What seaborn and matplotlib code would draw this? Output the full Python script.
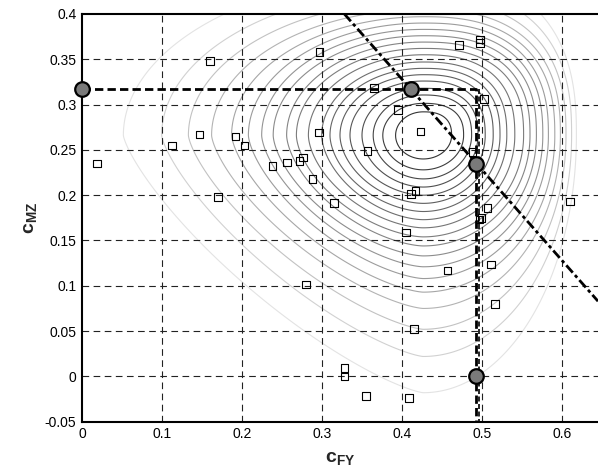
import numpy as np
import pandas as pd
import matplotlib
matplotlib.use("Agg")
import matplotlib.pyplot as plt
import seaborn as sns

# ---------------- data ----------------
# measured points (squares)
sq_x = [0.019, 0.160, 0.1125, 0.147, 0.192, 0.203, 0.170, 0.238, 0.256, 0.272,
        0.276, 0.297, 0.471, 0.4975, 0.4975, 0.365, 0.5025, 0.395, 0.296, 0.423,
        0.357, 0.488, 0.288, 0.315, 0.4167, 0.411, 0.610, 0.507, 0.4996, 0.497,
        0.405, 0.457, 0.511, 0.280, 0.516, 0.415, 0.328, 0.328, 0.355, 0.409]
sq_y = [0.235, 0.348, 0.255, 0.267, 0.265, 0.255, 0.198, 0.232, 0.236, 0.238,
        0.2415, 0.358, 0.366, 0.372, 0.368, 0.318, 0.3065, 0.294, 0.269, 0.2705,
        0.2485, 0.248, 0.218, 0.1915, 0.2045, 0.201, 0.193, 0.186, 0.175, 0.173,
        0.159, 0.117, 0.1237, 0.1013, 0.080, 0.0525, 0.009, 0.0, -0.0217, -0.0239]

# highlighted points (grey circles)
pt_x = [0.0, 0.411, 0.493, 0.493]
pt_y = [0.317, 0.317, 0.2346, 0.0]

# thick dashed path
path_x = [0.0, 0.4925, 0.4925]
path_y = [0.317, 0.317, -0.05]
path2_x = [0.4965, 0.4965]
path2_y = [0.317, -0.05]

# dash-dot diagonal line
diag_x = [0.328, 0.645]
diag_y = [0.400, 0.083]

# contour extents (innermost -> outermost)
ctr_x0, ctr_y0 = 0.4265, 0.266
ctr_left = [0.392, 0.376, 0.364, 0.350, 0.335, 0.3225, 0.310, 0.2996, 0.283, 0.268,
            0.2558, 0.239, 0.2246, 0.208, 0.187, 0.162, 0.133, 0.0996, 0.0517]
ctr_right = [0.462, 0.477, 0.487, 0.495, 0.504, 0.514, 0.5225, 0.531, 0.541, 0.552,
             0.560, 0.568, 0.576, 0.583, 0.591, 0.598, 0.605, 0.612, 0.618]
ctr_up = [0.292, 0.3014, 0.3106, 0.318, 0.326, 0.333, 0.340, 0.347, 0.355, 0.362,
          0.369, 0.376, 0.383, 0.390, 0.397, 0.405, 0.415, 0.428, 0.445]
ctr_down = [0.240, 0.228, 0.218, 0.209, 0.200, 0.191, 0.182, 0.173, 0.164, 0.154,
            0.144, 0.133, 0.121, 0.108, 0.093, 0.075, 0.052, 0.022, -0.018]
ctr_gray = [0.20, 0.24, 0.28, 0.31, 0.34, 0.37, 0.40, 0.43, 0.46, 0.49,
            0.52, 0.55, 0.58, 0.61, 0.65, 0.70, 0.76, 0.82, 0.89]

x_ticks = [0, 0.1, 0.2, 0.3, 0.4, 0.5, 0.6]
x_tick_labels = ["0", "0.1", "0.2", "0.3", "0.4", "0.5", "0.6"]
y_ticks = [-0.05, 0, 0.05, 0.1, 0.15, 0.2, 0.25, 0.3, 0.35, 0.4]
y_tick_labels = ["-0.05", "0", "0.05", "0.1", "0.15", "0.2", "0.25", "0.3", "0.35", "0.4"]

# ---------------- style ----------------
sns.set_theme(style="white")
plt.rcParams["font.family"] = ["Liberation Sans", "DejaVu Sans"]
plt.rcParams["mathtext.fontset"] = "custom"
plt.rcParams["mathtext.rm"] = "Liberation Sans"
plt.rcParams["mathtext.bf"] = "Liberation Sans:bold"
plt.rcParams["mathtext.it"] = "Liberation Sans:italic"

fig = plt.figure(figsize=(5.98, 4.73), dpi=100)
ax = fig.add_axes([82 / 598, 1 - 421.7 / 473, (598 - 82) / 598, (421.7 - 14) / 473])

# ---------------- contours ----------------
gx = np.linspace(-0.01, 0.66, 700)
gy = np.linspace(-0.07, 0.52, 700)
X, Y = np.meshgrid(gx, gy)
dx = X - ctr_x0
dy = Y - ctr_y0
n_ctr = len(ctr_left)
for k in range(n_ctr):
    rx = np.where(dx < 0, ctr_x0 - ctr_left[k], ctr_right[k] - ctr_x0)
    ry = np.where(dy > 0, ctr_up[k] - ctr_y0, ctr_y0 - ctr_down[k])
    p_ll = 2.0 - 0.7 * k / (n_ctr - 1)
    p = np.where(dy > 0, np.where(dx < 0, 2.0, 2.5), np.where(dx < 0, p_ll, 2.0))
    nval = (np.abs(dx) / rx) ** p + (np.abs(dy) / ry) ** p
    g = ctr_gray[k]
    ax.contour(X, Y, nval, levels=[1.0], colors=[(g, g, g)], linewidths=0.8, zorder=1)

# ---------------- grid ----------------
for xv in x_ticks[1:]:
    ax.axvline(xv, color="#222222", lw=0.8, dashes=(6, 4), zorder=2)
for yv in y_ticks[1:-1]:
    ax.axhline(yv, color="#222222", lw=0.8, dashes=(6, 4), zorder=2)

# ---------------- lines ----------------
sns.lineplot(x=path_x, y=path_y, sort=False, estimator=None, ax=ax,
             color="black", lw=2.0, zorder=4).lines[-1].set_dashes((3, 1.5))
sns.lineplot(x=path2_x, y=path2_y, sort=False, estimator=None, ax=ax,
             color="black", lw=1.2, zorder=4).lines[-1].set_dashes((3, 1.5))
sns.lineplot(x=diag_x, y=diag_y, sort=False, estimator=None, ax=ax,
             color="black", lw=2.0, zorder=4).lines[-1].set_dashes((3.5, 1.2, 1.2, 1.2))

# ---------------- points ----------------
sns.scatterplot(x=sq_x, y=sq_y, marker="s", s=30, facecolor="none",
                edgecolor="black", linewidth=0.8, ax=ax, zorder=5)
sns.scatterplot(x=pt_x, y=pt_y, marker="o", s=110, color="#7a7a7a",
                edgecolor="black", linewidth=1.6, ax=ax, zorder=6, clip_on=False)

# ---------------- axes ----------------
ax.set_xlim(0, 0.645)
ax.set_ylim(-0.05, 0.4)
ax.set_xticks(x_ticks)
ax.set_xticklabels(x_tick_labels)
ax.set_yticks(y_ticks)
ax.set_yticklabels(y_tick_labels)
ax.tick_params(axis="both", direction="in", length=3, width=0.8, labelsize=10,
               colors="black", pad=4)
for side in ["left", "bottom", "top"]:
    ax.spines[side].set_color("black")
    ax.spines[side].set_linewidth(1.5)
ax.spines["right"].set_visible(False)

ax.set_xlabel(r"$\mathbf{c_{FY}}$", fontsize=14, labelpad=6)
ax.set_ylabel(r"$\mathbf{c_{MZ}}$", fontsize=14, labelpad=4)

fig.savefig("out.png", dpi=100)
